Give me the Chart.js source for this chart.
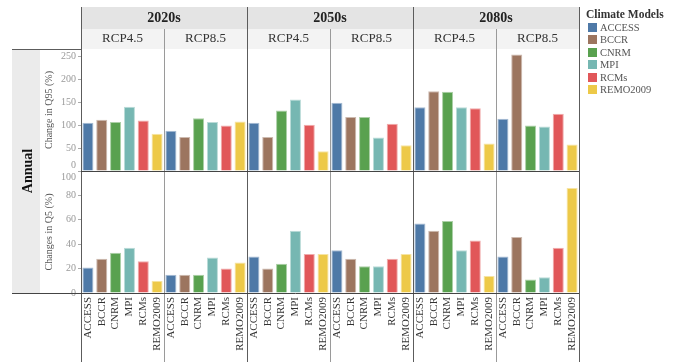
<!DOCTYPE html>
<html>
<head>
<meta charset="utf-8">
<title>Annual change in Q95 and Q5 by climate model</title>
<script src="https://cdn.jsdelivr.net/npm/chart.js@4.4.1/dist/chart.umd.min.js"></script>
<style>
  html, body { margin: 0; padding: 0; background: #fff; }
  #wrap { position: relative; width: 674px; height: 362px; }
  #chart { display: block; }
  #legend {
    position: absolute; left: 586px; top: 8px;
    font-family: 'Liberation Serif', 'Times New Roman', serif;
  }
  #legend .title { font-size: 11.5px; font-weight: bold; color: #333; line-height: 13px; white-space: nowrap; }
  #legend .item { display: flex; align-items: center; height: 12.5px; font-size: 10.5px; color: #555; }
  #legend .swatch { width: 9px; height: 9px; margin: 0 3px 0 2px; flex: none; }
</style>
</head>
<body>
<div id="wrap">
  <canvas id="chart" width="674" height="362"></canvas>
  <div id="legend"><div class="title">Climate Models</div></div>
</div>
<script>
const periods = ['2020s', '2050s', '2080s'];
const scenarios = ['RCP4.5', 'RCP8.5'];
const models = ['ACCESS', 'BCCR', 'CNRM', 'MPI', 'RCMs', 'REMO2009'];
const modelColors = ['#4e79a7', '#9c755f', '#59a14f', '#76b7b2', '#e15759', '#edc948'];
const modelEdges = ['#a6bcd3', '#cdbaaf', '#acd0a7', '#badbd8', '#f0abac', '#f6e4a3'];

// Change in Q95 (%), model order as above
const q95_2020s_rcp45 = [105, 112, 107, 140, 110, 81];
const q95_2020s_rcp85 = [88, 74, 115, 107, 99, 108];
const q95_2050s_rcp45 = [105, 74, 132, 156, 101, 43];
const q95_2050s_rcp85 = [149, 118, 118, 73, 103, 56];
const q95_2080s_rcp45 = [139, 174, 173, 139, 137, 60];
const q95_2080s_rcp85 = [114, 254, 99, 97, 125, 58];

// Changes in Q5 (%)
const q5_2020s_rcp45 = [21, 28, 33, 37, 26, 10];
const q5_2020s_rcp85 = [15, 15, 15, 29, 20, 25];
const q5_2050s_rcp45 = [30, 20, 24, 51, 32, 32];
const q5_2050s_rcp85 = [35, 28, 22, 22, 28, 32];
const q5_2080s_rcp45 = [57, 51, 59, 35, 43, 14];
const q5_2080s_rcp85 = [30, 46, 11, 13, 37, 86];

const q95Ticks = [0, 50, 100, 150, 200, 250];
const q5Ticks = [0, 20, 40, 60, 80, 100];

const q95 = [].concat(q95_2020s_rcp45, q95_2020s_rcp85, q95_2050s_rcp45,
                      q95_2050s_rcp85, q95_2080s_rcp45, q95_2080s_rcp85);
const q5 = [].concat(q5_2020s_rcp45, q5_2020s_rcp85, q5_2050s_rcp45,
                     q5_2050s_rcp85, q5_2080s_rcp45, q5_2080s_rcp85);

// one category per bar: period > scenario > model
const barLabels = periods.flatMap(() => scenarios.flatMap(() => models));
const scenarioLabels = periods.flatMap(() => scenarios);

Chart.defaults.font.family = "'Liberation Serif', 'Times New Roman', serif";

// legend: one swatch per model
const legendEl = document.getElementById('legend');
models.forEach((m, i) => {
  const item = document.createElement('div');
  item.className = 'item';
  const sw = document.createElement('span');
  sw.className = 'swatch';
  sw.style.background = modelColors[i];
  item.appendChild(sw);
  item.appendChild(document.createTextNode(m));
  legendEl.appendChild(item);
});

const barColor = ctx => modelColors[ctx.dataIndex % models.length];
const barEdge = ctx => modelEdges[ctx.dataIndex % models.length];

// header bands, row band and the panel frame lines
const facetFrame = {
  id: 'facetFrame',
  beforeDraw(chart) {
    const { ctx, chartArea: a, scales } = chart;
    ctx.save();
    ctx.fillStyle = '#e4e4e4';
    ctx.fillRect(a.left, scales.xPeriod.top, a.right - a.left, scales.xPeriod.height);
    ctx.fillStyle = '#f3f3f3';
    ctx.fillRect(a.left, scales.xScenario.top, a.right - a.left, scales.xScenario.height);
    ctx.fillStyle = '#ebebeb';
    ctx.fillRect(scales.yRow.left, a.top, scales.yRow.width, a.bottom - a.top);
    ctx.restore();
  },
  afterDraw(chart) {
    const { ctx, chartArea: a, scales } = chart;
    const panel = (a.right - a.left) / 6;
    const line = (x1, y1, x2, y2, color) => {
      ctx.strokeStyle = color;
      ctx.beginPath();
      ctx.moveTo(x1, y1);
      ctx.lineTo(x2, y2);
      ctx.stroke();
    };
    ctx.save();
    ctx.lineWidth = 1;
    for (let i = 0; i <= 6; i++) {
      const x = Math.round(a.left + i * panel) + 0.5;
      if (i % 2) line(x, scales.xScenario.top, x, chart.height, '#9a9a9a');
      else line(x, scales.xPeriod.top, x, chart.height, '#5c5c5c');
    }
    const left = scales.yRow.left;
    const mid = Math.round(scales.y1.bottom) + 0.5;
    const top = Math.round(a.top) + 0.5;
    const bottom = Math.round(a.bottom) + 0.5;
    line(left, top, a.left, top, '#5c5c5c');
    line(a.left, mid, a.right, mid, '#444');
    line(left, bottom, a.right, bottom, '#444');
    ctx.restore();
  }
};

new Chart(document.getElementById('chart'), {
  type: 'bar',
  data: {
    labels: barLabels,
    datasets: [
      {
        label: 'Change in Q95 (%)',
        data: q95,
        yAxisID: 'y1',
        grouped: false,
        backgroundColor: barColor,
        borderColor: barEdge,
        borderWidth: 1,
        categoryPercentage: 1,
        barPercentage: 0.8
      },
      {
        label: 'Changes in Q5 (%)',
        data: q5,
        yAxisID: 'y2',
        grouped: false,
        backgroundColor: barColor,
        borderColor: barEdge,
        borderWidth: 1,
        categoryPercentage: 1,
        barPercentage: 0.8
      }
    ]
  },
  options: {
    responsive: false,
    animation: false,
    events: [],
    layout: { padding: { top: 7, left: 12, right: 95, bottom: 0 } },
    scales: {
      x: {
        axis: 'x',
        position: 'bottom',
        offset: true,
        grid: { display: false, drawTicks: false },
        border: { display: false },
        ticks: {
          autoSkip: false, minRotation: 90, maxRotation: 90, padding: 4,
          color: '#333', font: { size: 11 }
        },
        afterFit: s => { s.height = 69; }
      },
      xScenario: {
        type: 'category',
        axis: 'x',
        position: 'top',
        weight: 1,
        offset: true,
        labels: scenarioLabels,
        grid: { display: false, drawTicks: false },
        border: { display: false },
        ticks: { padding: 2.5, color: '#333', font: { size: 13 } },
        afterFit: s => { s.height = 20; }
      },
      xPeriod: {
        type: 'category',
        axis: 'x',
        position: 'top',
        weight: 2,
        offset: true,
        labels: periods,
        grid: { display: false, drawTicks: false },
        border: { display: false },
        ticks: { padding: 2.5, color: '#222', font: { size: 14, weight: 'bold' } },
        afterFit: s => { s.height = 22; }
      },
      // stacked rows are placed bottom-up from the later key, so Q5 is listed first
      y2: {
        type: 'linear',
        axis: 'y',
        position: 'left',
        stack: 'rows',
        stackWeight: 1,
        min: 0,
        max: 100,
        afterBuildTicks: s => { s.ticks = q5Ticks.map(v => ({ value: v })); },
        grid: { drawOnChartArea: false, tickLength: 3, color: '#aaa' },
        border: { display: false },
        ticks: {
          autoSkip: false, padding: 2, color: '#999', font: { size: 10 },
          callback: v => (v === 100 ? ['', '100'] : String(v))
        },
        title: {
          display: true, text: 'Changes in Q5 (%)', color: '#555',
          font: { size: 10 }, padding: { top: 3, bottom: 0 }
        },
        afterFit: s => { s.width = 41; }
      },
      y1: {
        type: 'linear',
        axis: 'y',
        position: 'left',
        stack: 'rows',
        stackWeight: 1,
        min: 0,
        max: 266,
        afterBuildTicks: s => { s.ticks = q95Ticks.map(v => ({ value: v })); },
        grid: { drawOnChartArea: false, tickLength: 3, color: '#aaa' },
        border: { display: false },
        ticks: {
          autoSkip: false, padding: 2, color: '#999', font: { size: 10 },
          callback: v => (v === 0 ? ['0', ''] : String(v))
        },
        title: {
          display: true, text: 'Change in Q95 (%)', color: '#555',
          font: { size: 10 }, padding: { top: 3, bottom: 0 }
        },
        afterFit: s => { s.width = 41; }
      },
      yRow: {
        type: 'linear',
        axis: 'y',
        position: 'left',
        weight: 5,
        grid: { display: false, drawTicks: false },
        border: { display: false },
        ticks: { display: false },
        title: {
          display: true, text: 'Annual', color: '#111',
          font: { size: 14, weight: 'bold' }, padding: { top: 7.5, bottom: 0 }
        },
        afterFit: s => { s.width = 28; }
      }
    },
    plugins: {
      tooltip: { enabled: false },
      legend: { display: false }
    }
  },
  plugins: [facetFrame]
});
</script>
</body>
</html>
